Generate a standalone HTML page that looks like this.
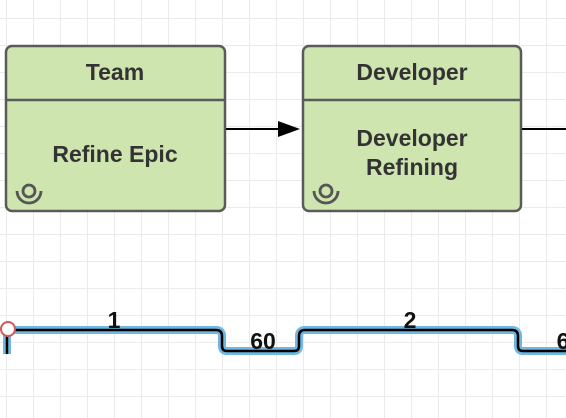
<!DOCTYPE html>
<html><head><style>
body{margin:0;width:566px;height:418px;overflow:hidden;background:#fff;
background-image:linear-gradient(#ebebeb 1px,transparent 1px),linear-gradient(90deg,#ebebeb 1px,transparent 1px);
background-size:27px 27px;background-position:6px 18px;font-family:"Liberation Sans",sans-serif}
</style></head><body>
<svg width="566" height="418" style="position:absolute;left:0;top:0" font-family="Liberation Sans, sans-serif" font-weight="bold" fill="#333">
<g stroke="#5a5a5a" stroke-width="2.5">
<rect x="6" y="46" width="219" height="165" rx="6" fill="#cfe5b0"/>
<line x1="6" y1="100" x2="225" y2="100"/>
<rect x="303" y="46" width="218" height="165" rx="6" fill="#cfe5b0"/>
<line x1="303" y1="100" x2="521" y2="100"/>
</g>
<g font-size="23" text-anchor="middle" fill="#333">
<text x="115" y="80">Team</text>
<text x="115" y="162">Refine Epic</text>
<text x="412" y="80">Developer</text>
<text x="412" y="146">Developer</text>
<text x="412" y="175">Refining</text>
</g>
<g fill="none" stroke="#555" stroke-width="2.8">
<circle cx="29" cy="191" r="6"/><path d="M17 191 a12 12 0 0 0 24 0"/>
<circle cx="326" cy="191" r="6"/><path d="M314 191 a12 12 0 0 0 24 0"/>
</g>
<line x1="226" y1="129" x2="284" y2="129" stroke="#000" stroke-width="2"/>
<polygon points="300,129 278,121 278,137" fill="#000"/>
<line x1="522" y1="129" x2="566" y2="129" stroke="#000" stroke-width="2"/>
<path d="M7 354 V330 H216 q6 0 6 6 V346 q0 5 5 5 H294 q5 0 5 -5 V336 q0 -6 6 -6 H512 q6 0 6 6 V346 q0 5 5 5 H570" fill="none" stroke="#6fb8e3" stroke-width="8" stroke-linejoin="round"/>
<path d="M7 354 V330 H216 q6 0 6 6 V346 q0 5 5 5 H294 q5 0 5 -5 V336 q0 -6 6 -6 H512 q6 0 6 6 V346 q0 5 5 5 H570" fill="none" stroke="#000" stroke-width="2.5"/>
<circle cx="8" cy="329" r="7" fill="#fff" stroke="#d0585a" stroke-width="2"/>
<g font-size="23" fill="#111" text-anchor="middle">
<text x="114" y="328">1</text>
<text x="263" y="349">60</text>
<text x="410" y="328">2</text>
<text x="563" y="349">6</text>
</g>
</svg>
</body></html>
